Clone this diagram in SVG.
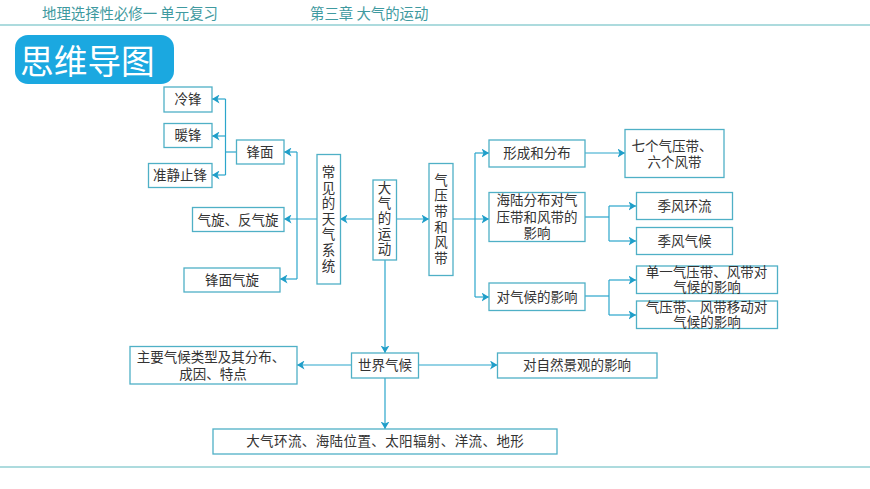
<svg xmlns="http://www.w3.org/2000/svg" width="870" height="489" viewBox="0 0 870 489">
<defs>
<marker id="arr" markerUnits="userSpaceOnUse" markerWidth="8" markerHeight="9" refX="7.500" refY="4.500" orient="auto"><path d="M0 0L7.500 4.500L0 9L2 4.500Z" fill="#1f9ec9"/></marker>
</defs>
<style>
text{font-family:"Noto Sans CJK SC","Noto Sans",sans-serif;text-spacing-trim:space-all;font-kerning:none}
.b rect{fill:#fff;stroke:#4fb0c6;stroke-width:1.3}
.b text{font-size:13.500px;fill:#333;text-anchor:middle}
#connectors path{fill:none;stroke:#2ba6cb;stroke-width:1.2}
.hd{font-size:14.400px;fill:#3f9aa0}
.rule{stroke:#5cb8bd;stroke-width:1.2}
</style>
<rect width="870" height="489" fill="#fff"/>
<g id="header">
<text class="hd" x="42" y="19">地理选择性必修一 单元复习</text>
<text class="hd" x="310" y="19">第三章 大气的运动</text>
<line class="rule" x1="0" y1="25" x2="870" y2="25"/>
<line class="rule" x1="0" y1="467" x2="870" y2="467"/>
</g>
<g id="title">
<rect x="15" y="35" width="159" height="49" rx="13" fill="#1ba8e0"/>
<text x="20" y="74" font-size="33.700" fill="#fff">思维导图</text>
</g>
<g id="connectors">
<path d="M236 152H225.500"/>
<path d="M225.500 99V175"/>
<path d="M225.500 99H212" marker-end="url(#arr)"/>
<path d="M225.500 136H212" marker-end="url(#arr)"/>
<path d="M225.500 175H212" marker-end="url(#arr)"/>
<path d="M317 219H284" marker-end="url(#arr)"/>
<path d="M297 152V279"/>
<path d="M297 152H284" marker-end="url(#arr)"/>
<path d="M297 279H280" marker-end="url(#arr)"/>
<path d="M373 219H340" marker-end="url(#arr)"/>
<path d="M396 219H429" marker-end="url(#arr)"/>
<path d="M453 219H489" marker-end="url(#arr)"/>
<path d="M475 153V297"/>
<path d="M475 153H489" marker-end="url(#arr)"/>
<path d="M475 297H489" marker-end="url(#arr)"/>
<path d="M585 153H625" marker-end="url(#arr)"/>
<path d="M585 217H609"/>
<path d="M609 206V241"/>
<path d="M609 206H636" marker-end="url(#arr)"/>
<path d="M609 241H636" marker-end="url(#arr)"/>
<path d="M585 296H609"/>
<path d="M609 280V315"/>
<path d="M609 280H636" marker-end="url(#arr)"/>
<path d="M609 315H636" marker-end="url(#arr)"/>
<path d="M385 260V353" marker-end="url(#arr)"/>
<path d="M351.500 365H297" marker-end="url(#arr)"/>
<path d="M418.500 365H497.500" marker-end="url(#arr)"/>
<path d="M385 378V429" marker-end="url(#arr)"/>
</g>
<g id="n-lengfeng" class="b"><rect x="164" y="87" width="48" height="25"/><text x="188" y="104">冷锋</text></g>
<g id="n-nuanfeng" class="b"><rect x="164" y="123.500" width="48" height="24"/><text x="188" y="140">暖锋</text></g>
<g id="n-zhunjing" class="b"><rect x="148.500" y="163.500" width="63.500" height="24"/><text x="180" y="180">准静止锋</text></g>
<g id="n-fengmian" class="b"><rect x="236.500" y="140" width="47.500" height="24"/><text x="260" y="156.500">锋面</text></g>
<g id="n-qixuan" class="b"><rect x="192.500" y="207.500" width="91.500" height="24"/><text x="238" y="224.500">气旋、反气旋</text></g>
<g id="n-fmqx" class="b"><rect x="184" y="268" width="96" height="24"/><text x="232" y="285">锋面气旋</text></g>
<g id="n-changjian" class="b"><rect x="317" y="154.500" width="23.500" height="129.500"/><text y="177"><tspan x="328.500">常</tspan><tspan x="328.500" dy="15.600">见</tspan><tspan x="328.500" dy="15.600">的</tspan><tspan x="328.500" dy="15.600">天</tspan><tspan x="328.500" dy="15.600">气</tspan><tspan x="328.500" dy="15.600">系</tspan><tspan x="328.500" dy="15.600">统</tspan></text></g>
<g id="n-daqi" class="b"><rect x="373" y="180" width="23.500" height="80"/><text y="193"><tspan x="384.500">大</tspan><tspan x="384.500" dy="15.200">气</tspan><tspan x="384.500" dy="15.200">的</tspan><tspan x="384.500" dy="15.200">运</tspan><tspan x="384.500" dy="15.200">动</tspan></text></g>
<g id="n-qiya" class="b"><rect x="429" y="163.500" width="24" height="112"/><text y="184.500"><tspan x="441">气</tspan><tspan x="441" dy="15.700">压</tspan><tspan x="441" dy="15.700">带</tspan><tspan x="441" dy="15.700">和</tspan><tspan x="441" dy="15.700">风</tspan><tspan x="441" dy="15.700">带</tspan></text></g>
<g id="n-xingcheng" class="b"><rect x="489" y="140" width="96" height="27"/><text x="537" y="158">形成和分布</text></g>
<g id="n-qige" class="b"><rect x="625" y="129.500" width="99" height="48"/><text x="672" y="151">七个气压带、</text><text x="674.500" y="167">六个风带</text></g>
<g id="n-hailu" class="b"><rect x="489" y="192.500" width="96" height="49"/><text x="537" y="205">海陆分布对气</text><text x="537" y="222">压带和风带的</text><text x="537" y="238">影响</text></g>
<g id="n-jffl" class="b"><rect x="636.500" y="192.500" width="96" height="27"/><text x="684.500" y="211">季风环流</text></g>
<g id="n-jfqh" class="b"><rect x="636.500" y="227.500" width="96" height="27"/><text x="684.500" y="245.500">季风气候</text></g>
<g id="n-duiqh" class="b"><rect x="489" y="283" width="96" height="27.500"/><text x="537" y="301.500">对气候的影响</text></g>
<g id="n-danyi" class="b"><rect x="636.500" y="266" width="141" height="27.500"/><text x="706.500" y="277">单一气压带、风带对</text><text x="707" y="292">气候的影响</text></g>
<g id="n-yidong" class="b"><rect x="636.500" y="301" width="141" height="27.500"/><text x="706.500" y="312">气压带、风带移动对</text><text x="707" y="327">气候的影响</text></g>
<g id="n-shijie" class="b"><rect x="351.500" y="353" width="67" height="25"/><text x="385" y="370">世界气候</text></g>
<g id="n-zhuyao" class="b"><rect x="130" y="346.500" width="167" height="37.500"/><text x="211" y="362">主要气候类型及其分布、</text><text x="213" y="379">成因、特点</text></g>
<g id="n-ziran" class="b"><rect x="497.500" y="353" width="159.500" height="25"/><text x="577" y="370">对自然景观的影响</text></g>
<g id="n-huanliu" class="b"><rect x="213" y="429" width="344" height="25"/><text x="385.200" y="446" letter-spacing="0.400">大气环流、海陆位置、太阳辐射、洋流、地形</text></g>
</svg>
